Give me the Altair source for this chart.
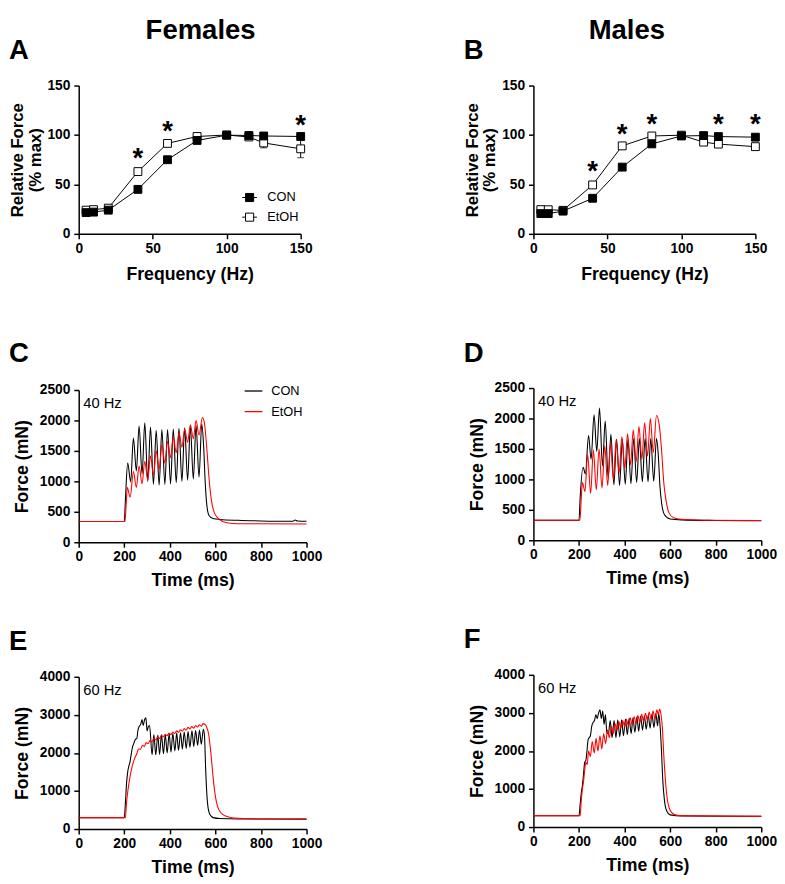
import altair as alt
import pandas as pd

FONT = "Liberation Sans"
GROUPS = ["CON", "EtOH"]

# ---------------- Force-frequency data (% max) ----------------
FREQ = [5, 10, 20, 40, 60, 80, 100, 115, 125, 150]

A_CON = [21.5, 22, 24, 45, 75, 94.5, 99.8, 99.5, 99, 98.5]
A_CON_SEM = [1, 1, 1, 2, 2, 2, 1, 1, 2, 3]
A_ETOH = [24, 24.5, 26, 63, 91.5, 98.5, 100, 98, 92, 86]
A_ETOH_SEM = [1, 1, 1, 2, 2, 2, 1, 2, 5, 9]
A_STAR_X = [40, 60, 150]
A_STAR_Y = [77, 104, 110]

B_CON = [20.5, 20.5, 23, 36, 67.5, 91, 99, 99.4, 98.4, 97.8]
B_CON_SEM = [1, 1, 1, 2, 2, 2, 1, 1, 1, 1]
B_ETOH = [24.5, 24.4, 23.8, 49.5, 89, 99, 99.8, 92.8, 90.8, 88.2]
B_ETOH_SEM = [1, 1, 1, 2, 2, 1, 1, 1, 2, 2]
B_STAR_X = [40, 60, 80, 125, 150]
B_STAR_Y = [63, 101, 111, 111, 111]

# ---------------- Force traces (mN) ----------------
C_CON_T = [0, 200, 205, 215, 228, 240, 253, 265, 278, 290, 303, 315, 328, 340, 353, 365, 378, 390, 403, 415,
           428, 440, 453, 465, 478, 490, 503, 515, 528, 540, 548, 555, 562, 572, 590, 620, 700, 800, 900, 940,
           950, 960, 1000]
C_CON_F = [340, 340, 700, 1300, 990, 1710, 1170, 1910, 1120, 1960, 1000, 1890, 950, 1840, 940, 1850, 950, 1850, 960, 1860,
           980, 1870, 1000, 1880, 1020, 1900, 1040, 1920, 1070, 1940, 1600, 1000, 620, 440, 390, 375, 360, 350, 345, 345,
           365, 350, 345]
C_ET_T = [0, 203, 208, 213, 226, 240, 253, 265, 278, 290, 303, 315, 328, 340, 353, 365, 378, 390, 403, 415,
          428, 440, 453, 465, 478, 490, 503, 515, 528, 543, 552, 562, 572, 582, 597, 620, 650, 700, 1000]
C_ET_F = [340, 340, 600, 900, 740, 1160, 900, 1250, 960, 1330, 1020, 1420, 1100, 1500, 1200, 1600, 1300, 1660, 1390, 1730,
          1470, 1800, 1560, 1860, 1640, 1930, 1700, 2000, 1760, 2050, 1950, 1550, 1050, 700, 470, 370, 320, 305, 300]

D_CON_T = [0, 200, 205, 218, 228, 242, 253, 266, 278, 290, 303, 315, 328, 340, 353, 365, 378, 390, 403, 415,
           428, 440, 453, 465, 478, 490, 503, 515, 528, 540, 548, 555, 563, 575, 600, 650, 800, 1000]
D_CON_F = [330, 330, 700, 1200, 1090, 1720, 1330, 2060, 1460, 2170, 1220, 1960, 1020, 1740, 910, 1660, 900, 1660, 920, 1660,
           930, 1670, 950, 1670, 960, 1670, 960, 1670, 970, 1670, 1400, 900, 600, 420, 350, 335, 325, 320]
D_ET_T = [0, 204, 210, 215, 226, 238, 251, 263, 276, 288, 301, 313, 326, 338, 351, 363, 376, 388, 401, 413,
          426, 438, 451, 463, 476, 488, 501, 513, 526, 540, 552, 562, 572, 582, 595, 615, 650, 750, 1000]
D_ET_F = [330, 330, 700, 950, 800, 1410, 770, 1480, 830, 1500, 860, 1550, 900, 1590, 1000, 1650, 1100, 1700, 1180, 1750,
          1240, 1810, 1290, 1870, 1330, 1930, 1380, 2000, 1440, 2050, 1900, 1500, 950, 650, 450, 370, 345, 330, 325]

E_CON_T = [0, 200, 205, 210, 215, 220, 225, 230, 236, 242, 248, 255, 260, 266, 272, 278, 283, 289, 295, 300,
           305, 311, 322, 330, 338, 347, 355, 363, 372, 380, 388, 397, 405, 413, 422, 430, 438, 447, 455, 463,
           472, 480, 488, 497, 505, 513, 522, 530, 538, 547, 552, 557, 562, 568, 576, 590, 620, 700, 1000]
E_CON_F = [300, 300, 700, 1200, 1500, 1650, 1760, 1950, 2150, 2250, 2350, 2380, 2600, 2700, 2750, 2880, 2720, 2870, 2920, 2580,
           2680, 2720, 1950, 2480, 1950, 2470, 1960, 2480, 1980, 2490, 2000, 2500, 2020, 2510, 2050, 2520, 2070, 2530, 2100, 2550,
           2120, 2560, 2150, 2580, 2170, 2590, 2200, 2600, 2230, 2620, 2450, 1600, 950, 550, 380, 300, 275, 265, 260]
E_ET_T = [0, 205, 210, 218, 226, 235, 245, 255, 263, 271, 280, 288, 296, 305, 313, 321, 330, 338, 346, 355,
          363, 371, 380, 388, 396, 405, 413, 421, 430, 438, 446, 455, 463, 471, 480, 488, 496, 505, 513, 521,
          530, 538, 546, 552, 560, 570, 580, 590, 600, 610, 625, 645, 680, 800, 1000]
E_ET_F = [300, 300, 700, 1100, 1400, 1650, 1850, 1980, 2110, 2090, 2200, 2170, 2270, 2240, 2330, 2290, 2380, 2340, 2420, 2380,
          2460, 2420, 2490, 2450, 2520, 2480, 2550, 2510, 2580, 2540, 2610, 2570, 2640, 2600, 2670, 2630, 2690, 2650, 2720, 2680,
          2740, 2700, 2770, 2760, 2700, 2500, 2000, 1350, 850, 580, 420, 340, 290, 265, 260]

F_CON_T = [0, 200, 205, 210, 215, 220, 225, 230, 235, 240, 245, 250, 256, 262, 268, 274, 280, 286, 292, 298,
           304, 310, 316, 322, 329, 337, 345, 354, 362, 370, 379, 387, 395, 404, 412, 420, 429, 437, 445, 454,
           462, 470, 479, 487, 495, 504, 512, 520, 529, 537, 545, 550, 556, 562, 568, 575, 585, 600, 650, 1000]
F_CON_F = [300, 300, 600, 900, 1100, 1400, 1700, 1750, 2000, 2300, 2350, 2400, 2650, 2750, 2800, 2950, 2850, 3000, 3080, 2850,
           3050, 2700, 2950, 2500, 2450, 2800, 2350, 2800, 2350, 2810, 2370, 2820, 2400, 2840, 2430, 2860, 2460, 2870, 2490, 2890,
           2520, 2910, 2550, 2930, 2570, 2940, 2600, 2960, 2620, 2980, 2660, 2980, 2650, 2000, 1200, 700, 420, 320, 290, 280]
F_ET_T = [0, 205, 210, 215, 220, 225, 230, 236, 242, 250, 258, 267, 275, 283, 292, 300, 308, 317, 325, 333,
          342, 350, 358, 367, 375, 383, 392, 400, 408, 417, 425, 433, 442, 450, 458, 467, 475, 483, 492, 500,
          508, 517, 525, 533, 542, 548, 554, 560, 566, 572, 579, 587, 597, 612, 640, 1000]
F_ET_F = [300, 300, 700, 1000, 1200, 1500, 1700, 1640, 2000, 1850, 2250, 1950, 2330, 2000, 2400, 2050, 2450, 2200, 2550, 2350,
          2650, 2450, 2720, 2550, 2770, 2600, 2800, 2630, 2830, 2660, 2870, 2690, 2900, 2720, 2930, 2750, 2960, 2780, 2990, 2800,
          3020, 2830, 3050, 2850, 3080, 2950, 3100, 2950, 2600, 1900, 1250, 750, 480, 350, 300, 280]

# ---------------- layout constants ----------------
LETTER_DX = -71
LETTER_OFFSET = 14
S1 = 58
S2 = 40
COL_SPACING = 143


def letter_title(letter):
    return alt.TitleParams(letter, anchor="start", frame="group", dx=LETTER_DX, fontSize=28,
                           fontWeight="bold", font=FONT, color="black", offset=LETTER_OFFSET)


def freq_panel(letter, con, con_sem, et, et_sem, star_x, star_y, show_legend):
    rows = []
    for g, vals, sems in (("EtOH", et, et_sem), ("CON", con, con_sem)):
        for f, v, s in zip(FREQ, vals, sems):
            rows.append({"f": f, "v": v, "lo": v - s, "hi": v + s, "g": g})
    df = pd.DataFrame(rows)
    stars = pd.DataFrame({"f": star_x, "v": star_y})

    def X():
        return alt.X("f:Q", scale=alt.Scale(domain=[0, 150], nice=False),
                     axis=alt.Axis(values=[0, 50, 100, 150], title="Frequency (Hz)",
                                   labelPadding=3, titlePadding=10))

    def Y(field="v"):
        return alt.Y(f"{field}:Q", scale=alt.Scale(domain=[0, 150], nice=False),
                     axis=alt.Axis(values=[0, 50, 100, 150], title=["Relative Force", "(% max)"],
                                   titleFontSize=17, titleLineHeight=18, titlePadding=3, labelPadding=4))

    if show_legend:
        legend = alt.Legend(title=None, orient="none", legendX=166, legendY=106,
                            symbolType="M-1,0H-0.55M0.55,0H1M-0.55,-0.55H0.55V0.55H-0.55Z",
                            symbolSize=225, symbolStrokeColor="black", symbolStrokeWidth=1,
                            labelFont=FONT, labelFontSize=13, labelColor="black",
                            labelOffset=10, rowPadding=5, padding=0)
    else:
        legend = None

    base = alt.Chart(df)
    line = base.mark_line(color="black", strokeWidth=1).encode(x=X(), y=Y(), detail="g:N")
    rule = base.mark_rule(color="black", strokeWidth=1).encode(x=X(), y=Y("lo"), y2="hi:Q")
    cap_hi = base.mark_tick(color="black", orient="horizontal", size=7, thickness=1).encode(x=X(), y=Y("hi"))
    cap_lo = base.mark_tick(color="black", orient="horizontal", size=7, thickness=1).encode(x=X(), y=Y("lo"))
    pts = base.mark_square(size=64, stroke="black", strokeWidth=1, opacity=1).encode(
        x=X(), y=Y(),
        fill=alt.Fill("g:N", scale=alt.Scale(domain=GROUPS, range=["black", "white"]), legend=legend))
    star = alt.Chart(stars).mark_text(text="*", fontSize=28, fontWeight="bold", font=FONT,
                                      baseline="alphabetic", dy=9, color="black").encode(x=X(), y=Y())
    return alt.layer(line, rule, cap_hi, cap_lo, pts, star).properties(
        width=226, height=151, title=letter_title(letter))


def trace_panel(letter, hz, ymax, ystep, con_t, con_f, et_t, et_f, show_legend, label_y):
    df = pd.concat([pd.DataFrame({"t": con_t, "F": con_f, "g": "CON"}),
                    pd.DataFrame({"t": et_t, "F": et_f, "g": "EtOH"})], ignore_index=True)
    lab = pd.DataFrame({"t": [20], "F": [label_y], "s": [hz]})

    x = alt.X("t:Q", scale=alt.Scale(domain=[0, 1000], nice=False),
              axis=alt.Axis(values=list(range(0, 1001, 200)), title="Time (ms)", format="d",
                            labelPadding=3, titlePadding=8))
    y = alt.Y("F:Q", scale=alt.Scale(domain=[0, ymax], nice=False),
              axis=alt.Axis(values=list(range(0, ymax + 1, ystep)), title="Force (mN)", format="d",
                            titlePadding=8, labelPadding=4))
    if show_legend:
        legend = alt.Legend(title=None, orient="none", legendX=168, legendY=-9,
                            symbolType="stroke", symbolSize=324, symbolStrokeWidth=1.3,
                            labelFont=FONT, labelFontSize=13, labelColor="black",
                            labelOffset=8, rowPadding=4, padding=0)
    else:
        legend = None
    lines = alt.Chart(df).mark_line(strokeWidth=1.1, interpolate="monotone").encode(
        x=x, y=y,
        color=alt.Color("g:N", scale=alt.Scale(domain=GROUPS, range=["black", "#ff0000"]), legend=legend))
    text = alt.Chart(lab).mark_text(align="left", baseline="middle", fontSize=15, font=FONT,
                                    color="black").encode(x=x, y=y, text="s:N")
    return alt.layer(lines, text).properties(width=232, height=155, title=letter_title(letter))


A = freq_panel("A", A_CON, A_CON_SEM, A_ETOH, A_ETOH_SEM, A_STAR_X, A_STAR_Y, True)
B = freq_panel("B", B_CON, B_CON_SEM, B_ETOH, B_ETOH_SEM, B_STAR_X, B_STAR_Y, False)
C = trace_panel("C", "40 Hz", 2500, 500, C_CON_T, C_CON_F, C_ET_T, C_ET_F, True, 2290)
D = trace_panel("D", "40 Hz", 2500, 500, D_CON_T, D_CON_F, D_ET_T, D_ET_F, False, 2290)
E = trace_panel("E", "60 Hz", 4000, 1000, E_CON_T, E_CON_F, E_ET_T, E_ET_F, False, 3660)
F = trace_panel("F", "60 Hz", 4000, 1000, F_CON_T, F_CON_F, F_ET_T, F_ET_F, False, 3660)


def column(top, mid, bot, head, dx):
    inner = alt.vconcat(mid, bot, spacing=S2).resolve_scale(color="independent", fill="independent")
    return alt.vconcat(top, inner, spacing=S1,
                       title=alt.TitleParams(head, anchor="middle", frame="bounds", fontSize=28,
                                             fontWeight="bold", font=FONT, color="black", offset=-8, dx=dx)
                       ).resolve_scale(color="independent", fill="independent")


colL = column(A, C, E, "Females", 36)
colR = column(B, D, F, "Males", 7)

chart = alt.hconcat(colL, colR, spacing=COL_SPACING).resolve_scale(
    color="independent", fill="independent"
).properties(
    padding={"left": 0, "top": 2, "right": 0, "bottom": 0}, background="white"
).configure_axis(
    domainColor="black", domainWidth=1.5, tickColor="black", tickWidth=1.5, tickSize=5,
    labelFont=FONT, labelFontSize=14, labelFontWeight="bold", labelColor="black",
    titleFont=FONT, titleFontSize=18, titleFontWeight="bold", titleColor="black",
    grid=False, labelFlush=False, labelOverlap=False
).configure_view(stroke=None)

chart.save("out.html", embed_options={"renderer": "svg", "actions": False})
